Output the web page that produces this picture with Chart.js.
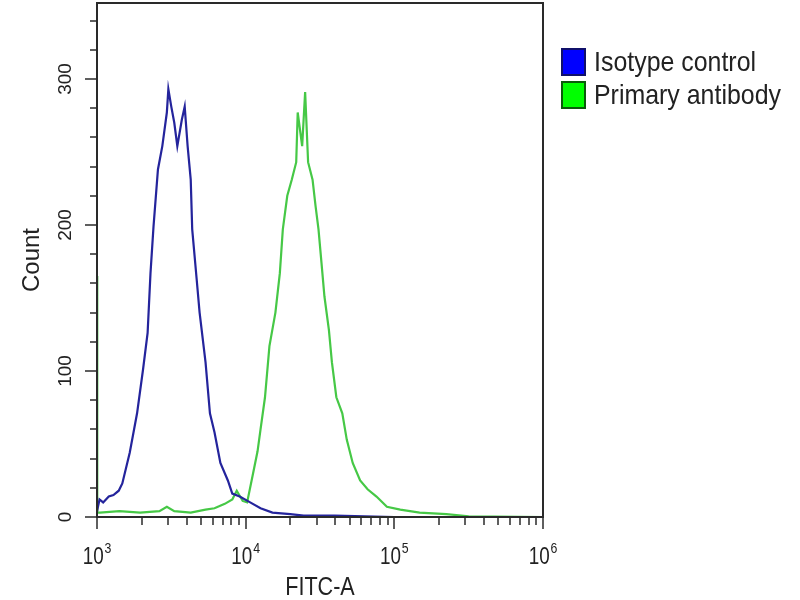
<!DOCTYPE html>
<html>
<head>
<meta charset="utf-8">
<script src="https://cdn.jsdelivr.net/npm/chart.js@4.4.0/dist/chart.umd.min.js"></script>
<style>
body{margin:0;background:#fff;}
#wrap{position:relative;width:800px;height:600px;}
#legend{position:absolute;left:561px;top:45px;font-family:'Liberation Sans',sans-serif;font-size:28px;color:#222;}
.item{display:flex;align-items:center;height:33px;white-space:nowrap;}
.sw{width:21px;height:24px;border:2px solid #111;margin-right:8px;box-sizing:content-box;flex:none;}
.txt{display:inline-block;transform:scaleX(0.89);transform-origin:left center;}
</style>
</head>
<body>
<div id="wrap">
  <canvas id="myChart" width="800" height="600"></canvas>
  <div id="legend">
    <div class="item"><div class="sw" style="background:#0000ff;border-color:#10106a"></div><span class="txt">Isotype control</span></div>
    <div class="item"><div class="sw" style="background:#00ff00;border-color:#0a5a0a"></div><span class="txt">Primary antibody</span></div>
  </div>
</div>
<script>
// FITC-A intensities and counts
var isotypeFitc  = [1000, 1040, 1100, 1200, 1290, 1400, 1480, 1660, 1860, 2040, 2190, 2290, 2400, 2570, 2750, 2950, 3020, 3160, 3310, 3470, 3720, 3890, 4070, 4270, 4370, 4680, 4900, 5370, 5750, 6170, 6760, 7590, 8130, 9120, 10720, 12590, 15140, 19950, 24550, 39810, 100000, 1000000];
var isotypeCount = [4, 12, 10, 14, 15, 18, 23, 44, 71, 101, 126, 167, 199, 238, 254, 277, 293, 281, 270, 254, 272, 281, 254, 231, 197, 163, 140, 106, 71, 58, 37, 25, 16, 14, 10, 6, 3, 2, 1, 1, 0, 0];

var primaryFitc  = [1000, 1004, 1047, 1413, 1950, 2630, 2950, 3310, 4270, 5370, 6170, 7240, 8130, 8710, 9550, 10230, 11220, 12020, 12590, 13490, 14450, 15850, 16980, 17780, 19050, 20420, 21880, 22390, 23990, 25120, 26300, 28180, 29510, 30900, 32360, 33880, 36310, 38020, 40740, 44670, 47860, 52480, 58880, 66070, 75860, 89130, 109600, 147900, 223900, 316200, 1000000];
var primaryCount = [165, 3, 3, 4, 3, 4, 7, 4, 3, 5, 6, 9, 12, 18, 11, 10, 30, 45, 60, 82, 117, 140, 167, 197, 220, 231, 243, 277, 254, 291, 243, 231, 213, 197, 174, 151, 128, 106, 82, 71, 53, 37, 25, 19, 14, 7, 5, 3, 2, 0.5, 0];

var xTickValues = [];
[1e3, 1e4, 1e5].forEach(function(d){ for (var m = 1; m < 10; m++) xTickValues.push(d * m); });
xTickValues.push(1e6);
var xLabelExp = [3, 4, 5, 6];
var yTickValues = [];
for (var v = 0; v <= 340; v += 20) yTickValues.push(v);
var yLabelValues = [0, 100, 200, 300];

function pts(xs, ys){ return xs.map(function(x, i){ return {x: x, y: ys[i]}; }); }

var axisDecor = {
  id: 'axisDecor',
  afterDraw: function(chart){
    var ctx = chart.ctx, a = chart.chartArea, x = chart.scales.x, y = chart.scales.y;
    ctx.save();
    ctx.strokeStyle = '#2a2a2a';
    ctx.lineWidth = 2;
    ctx.strokeRect(a.left, a.top, a.right - a.left, a.bottom - a.top);
    ctx.lineWidth = 1.5;
    x.ticks.forEach(function(t){
      var px = Math.round(x.getPixelForValue(t.value));
      var major = Math.abs(Math.log10(t.value) - Math.round(Math.log10(t.value))) < 1e-9;
      ctx.beginPath(); ctx.moveTo(px, a.bottom); ctx.lineTo(px, a.bottom + (major ? 12 : 8)); ctx.stroke();
    });
    y.ticks.forEach(function(t){
      var py = Math.round(y.getPixelForValue(t.value));
      var major = t.value % 100 === 0;
      ctx.beginPath(); ctx.moveTo(a.left, py); ctx.lineTo(a.left - (major ? 12 : 7), py); ctx.stroke();
    });
    ctx.fillStyle = '#222';
    var sx = 0.82;
    // x labels 10^n, horizontally condensed
    xLabelExp.forEach(function(e){
      var px = x.getPixelForValue(Math.pow(10, e));
      ctx.font = "23px 'Liberation Sans', sans-serif";
      var w1 = ctx.measureText('10').width;
      ctx.font = "15px 'Liberation Sans', sans-serif";
      var w2 = ctx.measureText(String(e)).width;
      ctx.save();
      ctx.translate(px - (w1 + w2 + 1) * sx / 2, 0);
      ctx.scale(sx, 1);
      ctx.textAlign = 'left'; ctx.textBaseline = 'alphabetic';
      ctx.font = "23px 'Liberation Sans', sans-serif";
      ctx.fillText('10', 0, 564);
      ctx.font = "15px 'Liberation Sans', sans-serif";
      ctx.fillText(String(e), w1 + 1, 553);
      ctx.restore();
    });
    // x axis title
    ctx.save();
    ctx.translate((a.left + a.right) / 2, 588);
    ctx.scale(0.83, 1);
    ctx.font = "26px 'Liberation Sans', sans-serif";
    ctx.textAlign = 'center'; ctx.textBaseline = 'middle';
    ctx.fillText('FITC-A', 0, 0);
    ctx.restore();
    // y labels, rotated
    ctx.font = "19px 'Liberation Sans', sans-serif";
    ctx.textAlign = 'center'; ctx.textBaseline = 'middle';
    yLabelValues.forEach(function(v){
      var py = y.getPixelForValue(v);
      ctx.save(); ctx.translate(66, py); ctx.rotate(-Math.PI / 2);
      ctx.fillText(String(v), 0, 0);
      ctx.restore();
    });
    ctx.restore();
  }
};

var ctx = document.getElementById('myChart').getContext('2d');
var chart = new Chart(ctx, {
  type: 'line',
  data: {
    datasets: [{
      label: 'Isotype control',
      data: pts(isotypeFitc, isotypeCount),
      borderColor: '#24249c',
      borderWidth: 2.2,
      pointRadius: 0,
      tension: 0,
      fill: false
    }, {
      label: 'Primary antibody',
      data: pts(primaryFitc, primaryCount),
      borderColor: '#46c846',
      borderWidth: 2.2,
      pointRadius: 0,
      tension: 0,
      fill: false
    }]
  },
  options: {
    responsive: false,
    animation: false,
    layout: { padding: { left: 0, top: 3, right: 257, bottom: 0 } },
    plugins: { legend: { display: false }, tooltip: { enabled: false } },
    scales: {
      x: {
        type: 'logarithmic',
        min: 1000,
        max: 1000000,
        ticks: { display: false },
        grid: { display: false },
        border: { display: false },
        afterBuildTicks: function(s){ s.ticks = xTickValues.map(function(v){ return {value: v}; }); },
        afterFit: function(s){ s.height = 83; }
      },
      y: {
        min: 0,
        max: 352,
        ticks: { display: false },
        grid: { display: false },
        border: { display: false },
        afterBuildTicks: function(s){ s.ticks = yTickValues.map(function(v){ return {value: v}; }); },
        afterFit: function(s){ s.width = 97; },
        title: {
          display: true, text: 'Count', color: '#222',
          font: { family: "'Liberation Sans', sans-serif", size: 24, lineHeight: 1 },
          padding: { top: 20, bottom: 0 }
        }
      }
    }
  },
  plugins: [axisDecor]
});
</script>
</body>
</html>
